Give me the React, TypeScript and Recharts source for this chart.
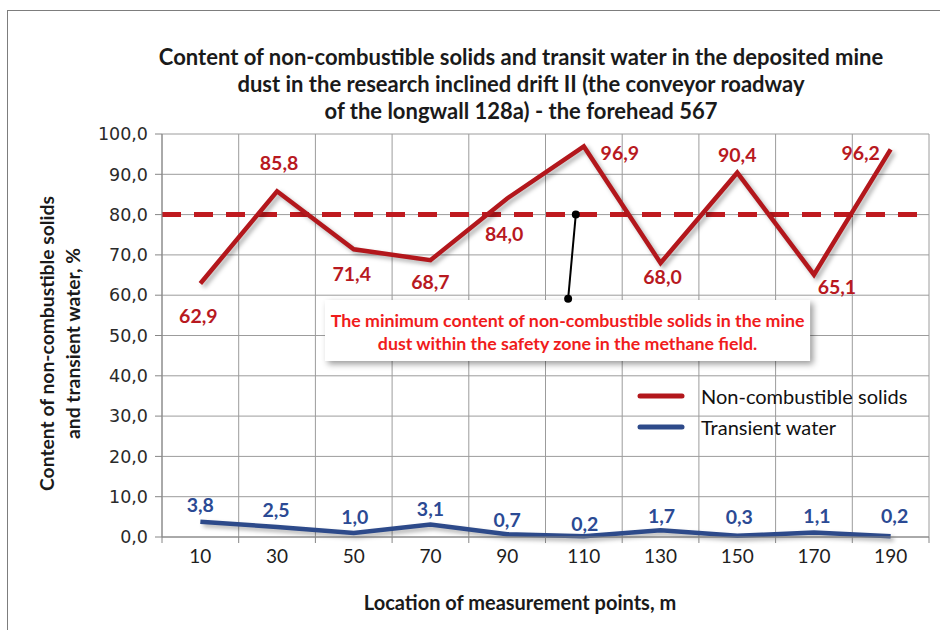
import React from 'react';
import {
  LineChart,
  Line,
  XAxis,
  YAxis,
  CartesianGrid,
  ReferenceLine,
  ReferenceArea,
  ReferenceDot,
  Legend,
  LabelList,
  Label,
} from 'recharts';

// ---------- data ----------
const positions = [10, 30, 50, 70, 90, 110, 130, 150, 170, 190];
const solids = [62.9, 85.8, 71.4, 68.7, 84.0, 96.9, 68.0, 90.4, 65.1, 96.2];
const water = [3.8, 2.5, 1.0, 3.1, 0.7, 0.2, 1.7, 0.3, 1.1, 0.2];
const yTicks = [0, 10, 20, 30, 40, 50, 60, 70, 80, 90, 100];
const xBoundaries = [0, 20, 40, 60, 80, 100, 120, 140, 160, 180, 200];
const safetyThreshold = 80;
const seriesNames = ['Non-combustible solids', 'Transient water'];

const titleLines = [
  'Content of non-combustible solids and transit water in the deposited mine',
  'dust in the research inclined drift II (the conveyor roadway',
  'of the longwall 128a) - the forehead 567',
];
const yTitleLines = ['Content of non-combustible solids', 'and transient water, %'];
const xTitle = 'Location of measurement points, m';
const annotationLines = [
  'The minimum content of non-combustible solids in the mine',
  'dust within the safety zone in the methane field.',
];

// annotation anchor points (data coordinates)
const calloutStart = { x: 107.9, y: 80 };
const calloutEnd = { x: 105.9, y: 59.1 };
const annotationBox = { x1: 42.5, x2: 169.0, y1: 43.7, y2: 58.8 };

const data = positions.map((p, i) => ({ pos: p, solids: solids[i], water: water[i] }));
const xTicks = [...xBoundaries, ...positions].sort((a, b) => a - b);

// ---------- styles ----------
const RED = '#b3171c';
const BLUE = '#2d4a8a';
const GRID = '#9c9c9c';
const AXIS = '#868686';
const FONT = 'Lato, "Open Sans", sans-serif';

const redLabelOffsets: [number, number][] = [
  [-2, 32], [2, -29], [-2, 24], [0, 21], [-3, 35], [36, 6], [2, 14], [0, -18], [23, 12], [-30, 3],
];
const blueLabelOffsets: [number, number][] = [
  [0, -17], [-1, -17], [1, -16], [0, -16], [0, -15], [1, -13], [1, -15], [2, -19], [3, -17], [4, -21],
];

const fmt = (v: number) => v.toFixed(1).replace('.', ',');

const makeLabel = (color: string, offsets: [number, number][]) => (props: any) => {
  const { x, y, value, index } = props;
  const off = offsets[index] || [0, -16];
  return (
    <text
      x={Number(x) + off[0]}
      y={Number(y) + off[1]}
      textAnchor="middle"
      dominantBaseline="central"
      fill={color}
      fontFamily={FONT}
      fontWeight={700}
      fontSize={19.5}
    >
      {fmt(Number(value))}
    </text>
  );
};

const XTick = (props: any) => {
  const { x, y, payload } = props;
  const v = payload.value;
  if (xBoundaries.includes(v)) {
    return <line x1={x} x2={x} y1={y} y2={y + 6} stroke={AXIS} strokeWidth={1} />;
  }
  return (
    <text
      x={x}
      y={y + 18}
      textAnchor="middle"
      dominantBaseline="central"
      fill="#1e1e1e"
      fontFamily={FONT}
      fontSize={19}
    >
      {v}
    </text>
  );
};

const YTitle = (props: any) => {
  const vb = props.viewBox || { x: 0, y: 134, width: 162, height: 403 };
  const cy = vb.y + vb.height / 2 + 8;
  return (
    <g>
      {yTitleLines.map((t, i) => {
        const cx = vb.x + 46 + i * 26;
        return (
          <text
            key={i}
            x={cx}
            y={cy}
            transform={`rotate(-90 ${cx} ${cy})`}
            textAnchor="middle"
            dominantBaseline="central"
            fill="#1a1a1a"
            fontFamily={FONT}
            fontWeight={700}
            fontSize={19.3}
          >
            {t}
          </text>
        );
      })}
    </g>
  );
};

const XTitle = () => (
  <text
    x={520}
    y={602}
    textAnchor="middle"
    dominantBaseline="central"
    fill="#1a1a1a"
    fontFamily={FONT}
    fontWeight={700}
    fontSize={20}
  >
    {xTitle}
  </text>
);

const AnnotationText = (props: any) => {
  const vb = props.viewBox || { x: 0, y: 0, width: 0, height: 0 };
  const cx = vb.x + vb.width / 2;
  return (
    <g>
      {annotationLines.map((t, i) => (
        <text
          key={i}
          x={cx}
          y={vb.y + 20 + i * 23}
          textAnchor="middle"
          dominantBaseline="central"
          fill="#f01c1c"
          fontFamily={FONT}
          fontWeight={700}
          fontSize={17.8}
        >
          {t}
        </text>
      ))}
    </g>
  );
};

const renderLegend = (props: any) => {
  const { payload } = props;
  return (
    <div style={{ fontFamily: FONT, fontSize: 20, color: '#111' }}>
      {(payload || []).map((p: any, i: number) => (
        <div key={i} style={{ display: 'flex', alignItems: 'center', height: 31 }}>
          <svg width={52} height={10} style={{ display: 'block' }}>
            <line x1={4} y1={5} x2={46} y2={5} stroke={p.color} strokeWidth={5} strokeLinecap="round" />
          </svg>
          <span style={{ marginLeft: 13, whiteSpace: 'nowrap' }}>{p.value}</span>
        </div>
      ))}
    </div>
  );
};

export default function App() {
  return (
    <div style={{ position: 'absolute', left: 0, top: 0, width: 940, height: 630, overflow: 'hidden', background: '#fff' }}>
      <style>{`
        .shadowed .recharts-curve { filter: drop-shadow(3px 3px 2px rgba(0,0,0,0.30)); }
        .anno-box .recharts-reference-area-rect { filter: drop-shadow(3px 3px 3px rgba(0,0,0,0.40)); }
      `}</style>
      <div
        style={{
          position: 'absolute',
          left: 7,
          top: 10,
          width: 960,
          height: 660,
          borderLeft: '1.5px solid #7d7d7d',
          borderTop: '1.5px solid #7d7d7d',
        }}
      />
      <div
        style={{
          position: 'absolute',
          left: 121,
          top: 43,
          width: 800,
          textAlign: 'center',
          fontFamily: FONT,
          fontWeight: 700,
          fontSize: 22,
          lineHeight: '27px',
          color: '#1a1a1a',
        }}
      >
        {titleLines.map((t, i) => (
          <div key={i}>{t}</div>
        ))}
      </div>
      <div style={{ position: 'absolute', left: 0, top: 0 }}>
        <LineChart
          width={940}
          height={630}
          data={data}
          margin={{ top: 134, right: 11, bottom: 0, left: 0 }}
        >
          <CartesianGrid stroke={GRID} strokeWidth={1} verticalValues={xBoundaries} horizontalValues={yTicks} />
          <XAxis
            dataKey="pos"
            type="number"
            domain={[0, 200]}
            ticks={xTicks}
            interval={0}
            height={93}
            stroke={AXIS}
            tickLine={false}
            tickSize={0}
            tickMargin={0}
            tick={<XTick />}
          >
            <Label content={<XTitle />} />
          </XAxis>
          <YAxis
            type="number"
            domain={[0, 100]}
            ticks={yTicks}
            interval={0}
            width={162}
            stroke={AXIS}
            tickSize={7}
            tickMargin={7}
            tickFormatter={fmt}
            tick={{ fill: '#2a2a2a', fontFamily: '"DejaVu Sans", sans-serif', fontSize: 17.5 }}
          >
            <Label content={<YTitle />} />
          </YAxis>
          <ReferenceArea
            className="anno-box"
            x1={annotationBox.x1}
            x2={annotationBox.x2}
            y1={annotationBox.y1}
            y2={annotationBox.y2}
            fill="#ffffff"
            fillOpacity={1}
            stroke="none"
            label={<AnnotationText />}
          />
          <ReferenceLine
            y={safetyThreshold}
            stroke="#bf1a1f"
            strokeWidth={5}
            strokeDasharray="19 13"
          />
          <Line
            className="shadowed"
            name={seriesNames[0]}
            dataKey="solids"
            stroke={RED}
            strokeWidth={4.5}
            dot={false}
            activeDot={false}
            isAnimationActive={false}
          >
            <LabelList dataKey="solids" content={makeLabel('#b8191f', redLabelOffsets)} />
          </Line>
          <Line
            className="shadowed"
            name={seriesNames[1]}
            dataKey="water"
            stroke={BLUE}
            strokeWidth={4.5}
            dot={false}
            activeDot={false}
            isAnimationActive={false}
          >
            <LabelList dataKey="water" content={makeLabel('#2b4a94', blueLabelOffsets)} />
          </Line>
          <ReferenceLine
            segment={[calloutStart, calloutEnd]}
            stroke="#000"
            strokeWidth={2}
          />
          <ReferenceDot x={calloutStart.x} y={calloutStart.y} r={4} fill="#000" stroke="none" />
          <ReferenceDot x={calloutEnd.x} y={calloutEnd.y} r={4} fill="#000" stroke="none" />
          <Legend
            layout="horizontal"
            verticalAlign="middle"
            align="center"
            content={renderLegend}
            wrapperStyle={{ position: 'absolute', left: 636, top: 380, width: 300 }}
          />
        </LineChart>
      </div>
    </div>
  );
}
